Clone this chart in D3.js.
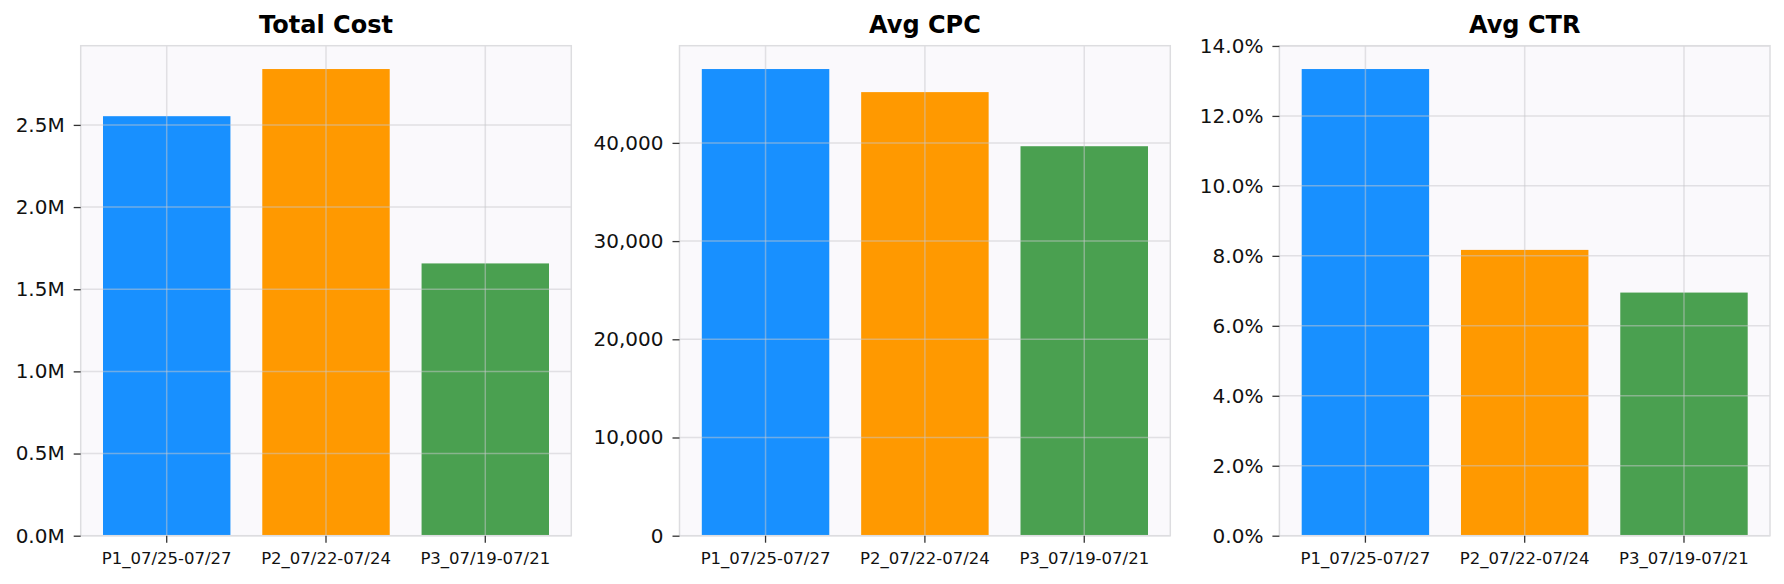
<!DOCTYPE html>
<html>
<head>
<meta charset="utf-8">
<script src="https://cdn.jsdelivr.net/npm/d3@7"></script>
<style>
    body { margin: 0; background: #ffffff; }
    text { font-family: "DejaVu Sans", sans-serif; }
</style>
</head>
<body>
<div id="canvas"></div>
<script>
"use strict"

// DATA

let categories = ["P1_07/25-07/27", "P2_07/22-07/24", "P3_07/19-07/21"];
let totalCost = [2553000, 2840000, 1657000];
let avgCpc = [47520, 45170, 39660];
let avgCtr = [13.34, 8.17, 6.95];

let costTicks = [0, 500000, 1000000, 1500000, 2000000, 2500000];
let cpcTicks = [0, 10000, 20000, 30000, 40000];
let ctrTicks = [0, 2, 4, 6, 8, 10, 12, 14];

let barColors = ["#1890ff", "#ff9900", "#4aa050"];


// CONFIGURATION VARIABLES

let svgWidth = 1784;
let svgHeight = 584;
let plotTop = 45.7;
let plotBottom = 535.7;


// CREATE SVG

let svg = d3.select("#canvas")
    .append("svg")
    .attr("width", svgWidth)
    .attr("height", svgHeight);


// PANEL DRAWING

function drawPanel(left, right, title, values, ticks, format) {
    let g = svg.append("g");

    let xScale = d3.scaleBand()
        .domain(categories)
        .range([left, right])
        .paddingInner(0.2)
        .paddingOuter(0.14);

    let yScale = d3.scaleLinear()
        .domain([0, d3.max(values) * 1.05])
        .range([plotBottom, plotTop]);

    // background
    g.append("rect")
        .attr("x", left)
        .attr("y", plotTop)
        .attr("width", right - left)
        .attr("height", plotBottom - plotTop)
        .attr("fill", "#faf9fc");

    // bars
    g.selectAll("rect.bar")
        .data(values)
        .join("rect")
        .attr("class", "bar")
        .attr("x", function(d, i) { return xScale(categories[i]); })
        .attr("y", function(d) { return yScale(d); })
        .attr("width", xScale.bandwidth())
        .attr("height", function(d) { return plotBottom - yScale(d); })
        .attr("fill", function(d, i) { return barColors[i]; });

    // grid (drawn over bars)
    g.selectAll("line.hgrid")
        .data(ticks)
        .join("line")
        .attr("class", "hgrid")
        .attr("x1", left)
        .attr("x2", right)
        .attr("y1", function(d) { return yScale(d); })
        .attr("y2", function(d) { return yScale(d); })
        .attr("stroke", "#c8c8cc")
        .attr("stroke-opacity", 0.5)
        .attr("stroke-width", 1.5);

    g.selectAll("line.vgrid")
        .data(categories)
        .join("line")
        .attr("class", "vgrid")
        .attr("x1", function(d) { return xScale(d) + xScale.bandwidth() / 2; })
        .attr("x2", function(d) { return xScale(d) + xScale.bandwidth() / 2; })
        .attr("y1", plotTop)
        .attr("y2", plotBottom)
        .attr("stroke", "#c8c8cc")
        .attr("stroke-opacity", 0.5)
        .attr("stroke-width", 1.5);

    // frame
    g.append("rect")
        .attr("x", left)
        .attr("y", plotTop)
        .attr("width", right - left)
        .attr("height", plotBottom - plotTop)
        .attr("fill", "none")
        .attr("stroke", "#dddde0")
        .attr("stroke-width", 1.5);

    // axes
    let yAxis = g.append("g")
        .attr("transform", "translate(" + left + ",0)")
        .call(d3.axisLeft(yScale)
            .tickValues(ticks)
            .tickFormat(format)
            .tickSize(7)
            .tickPadding(9));

    yAxis.select(".domain").remove();
    yAxis.selectAll("line").attr("stroke", "#333333").attr("stroke-width", 1.3);
    yAxis.selectAll("text")
        .attr("fill", "#111111")
        .style("font-size", "20px")
        .style("font-family", "DejaVu Sans");

    let xAxis = g.append("g")
        .attr("transform", "translate(0," + plotBottom + ")")
        .call(d3.axisBottom(xScale)
            .tickSize(7)
            .tickPadding(10));

    xAxis.select(".domain").remove();
    xAxis.selectAll("line").attr("stroke", "#333333").attr("stroke-width", 1.3);
    xAxis.selectAll("text")
        .attr("fill", "#111111")
        .style("font-size", "16.5px")
        .style("font-family", "DejaVu Sans");

    // title
    g.append("text")
        .attr("x", (left + right) / 2)
        .attr("y", 33)
        .attr("text-anchor", "middle")
        .style("font-weight", "bold")
        .style("font-size", "24px")
        .attr("fill", "#000000")
        .text(title);
}


// DRAW PANELS

drawPanel(80.7, 571.3, "Total Cost", totalCost, costTicks, function(d) {
    return (d / 1e6).toFixed(1) + "M";
});

drawPanel(679.5, 1170.3, "Avg CPC", avgCpc, cpcTicks, d3.format(","));

drawPanel(1279.4, 1770, "Avg CTR", avgCtr, ctrTicks, function(d) {
    return d.toFixed(1) + "%";
});
</script>
</body>
</html>
